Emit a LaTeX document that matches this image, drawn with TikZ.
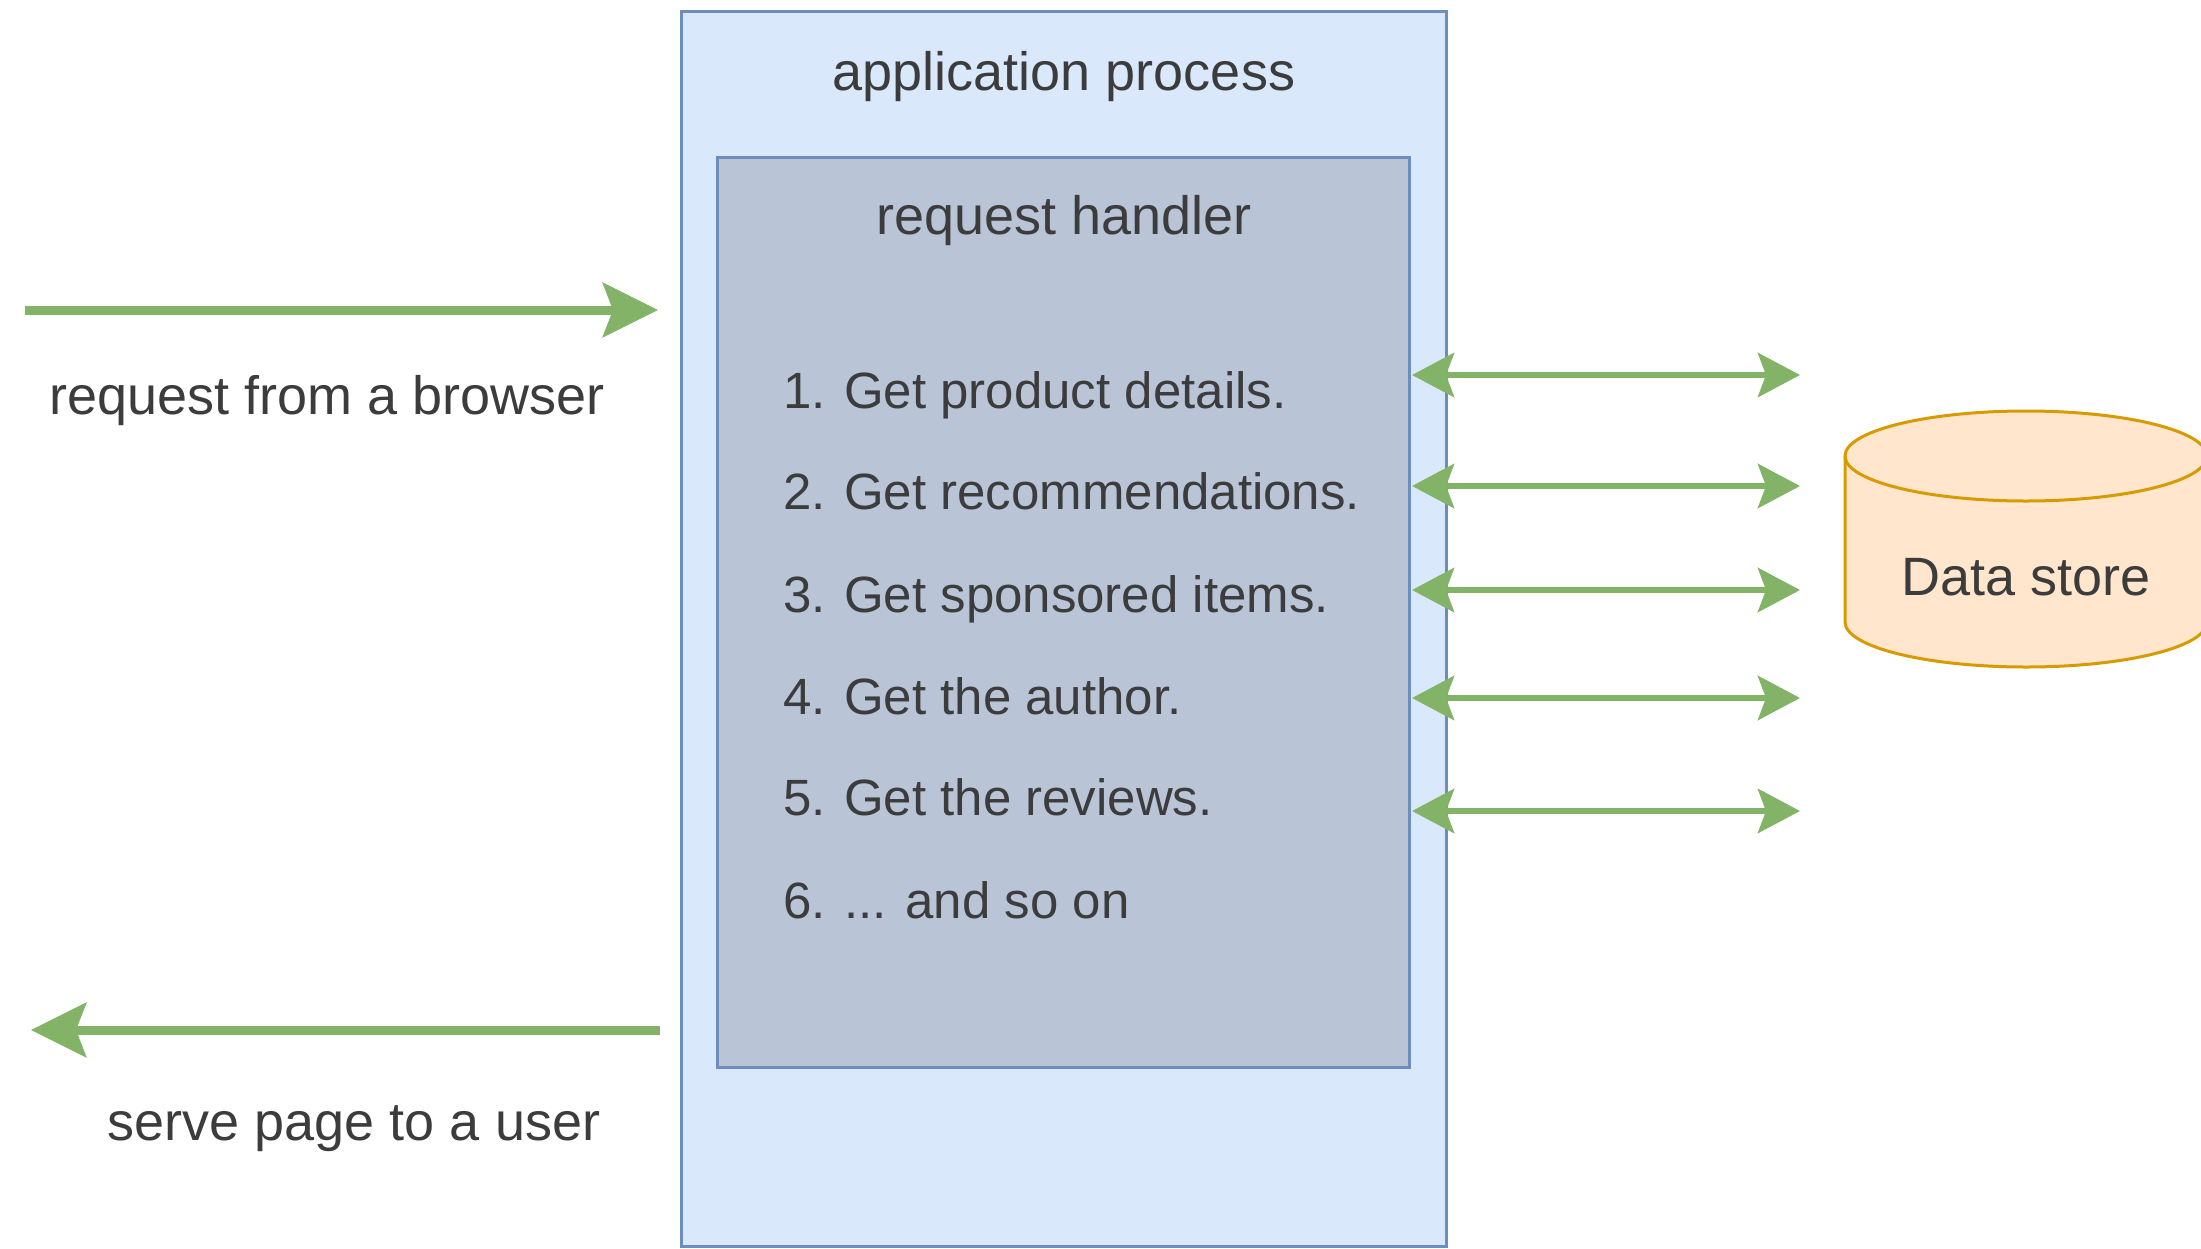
\documentclass[tikz,border=0pt]{standalone}
\usepackage{fontspec}
\setmainfont{Liberation Sans}
\usetikzlibrary{arrows.meta}
\definecolor{txt}{HTML}{3C3C3C}
\definecolor{outerfill}{HTML}{DAE8FC}
\definecolor{bluestroke}{HTML}{6C8EBF}
\definecolor{innerfill}{HTML}{B9C4D7}
\definecolor{arrowgreen}{HTML}{82B366}
\definecolor{dbfill}{HTML}{FFE6CC}
\definecolor{dbstroke}{HTML}{D79B00}
\tikzset{
  lbl/.style={text=txt, font=\fontsize{54}{60}\selectfont, inner sep=0pt},
  itemtxt/.style={text=txt, font=\fontsize{51}{60}\selectfont, inner sep=0pt, anchor=base west},
  boxstyle/.style={draw=bluestroke, line width=3pt, inner sep=0pt},
  bigarrow/.style={draw=arrowgreen, line width=9pt, -{Stealth[length=55pt, width=54pt, inset=10pt]}},
  dblarrow/.style={draw=arrowgreen, line width=6.5pt, {Stealth[length=42pt, width=44pt, inset=8pt]}-{Stealth[length=42pt, width=44pt, inset=8pt]}},
}
\begin{document}
\begin{tikzpicture}[x=1pt, y=-1pt]
\useasboundingbox (0,0) rectangle (2201,1248);
\fill[white] (0,0) rectangle (2201,1248);

% outer box
\node[boxstyle, fill=outerfill, minimum width=765pt, minimum height=1235pt] (outer) at (1063.5,628.5) {};
\node[lbl, anchor=base] (apptitle) at (1064,90) {application process};

% inner box
\node[boxstyle, fill=innerfill, minimum width=692pt, minimum height=910pt] (inner) at (1063,612) {};
\node[lbl, anchor=base] (handlertitle) at (1064,234) {request handler};

% list
\node[itemtxt] (num1) at (783,408.5) {1.};
\node[itemtxt] (item1) at (844,408.5) {Get product details.};
\node[itemtxt] (num2) at (783,509.5) {2.};
\node[itemtxt] (item2) at (844,509.5) {Get recommendations.};
\node[itemtxt] (num3) at (783,612) {3.};
\node[itemtxt] (item3) at (844,612) {Get sponsored items.};
\node[itemtxt] (num4) at (783,714.5) {4.};
\node[itemtxt] (item4) at (844,714.5) {Get the author.};
\node[itemtxt] (num5) at (783,815.5) {5.};
\node[itemtxt] (item5) at (844,815.5) {Get the reviews.};
\node[itemtxt] (num6) at (783,918) {6.};
\node[itemtxt] (item6) at (844,918) {... and so on};

% left arrows
\coordinate (reqstart) at (25,310);
\coordinate (reqend) at (658,310);
\draw[bigarrow] (reqstart) -- (reqend);
\node[lbl, anchor=base] (reqlbl) at (327,414) {request from a browser};

\coordinate (servestart) at (660,1030);
\coordinate (serveend) at (31,1030);
\draw[bigarrow] (servestart) -- (serveend);
\node[lbl, anchor=base] (servelbl) at (354,1140) {serve page to a user};

% double arrows
\foreach \i/\y in {1/375, 2/486, 3/590, 4/698, 5/811}{
  \coordinate (dend\i) at (1800,\y);
  \coordinate (dstart\i) at (1412,\y);
  \draw[dblarrow] (dstart\i) -- (dend\i);
}

% data store cylinder
\filldraw[fill=dbfill, draw=dbstroke, line width=3pt]
  (1845,456) -- (1845,622) arc[start angle=180, end angle=360, x radius=181, y radius=-45]
  -- (2207,456) arc[start angle=0, end angle=180, x radius=181, y radius=-45] -- cycle;
\draw[dbstroke, line width=3pt] (1845,456) arc[start angle=180, end angle=360, x radius=181, y radius=-45];
\node[lbl, anchor=base] (db) at (2026,595) {Data store};
\end{tikzpicture}
\end{document}
